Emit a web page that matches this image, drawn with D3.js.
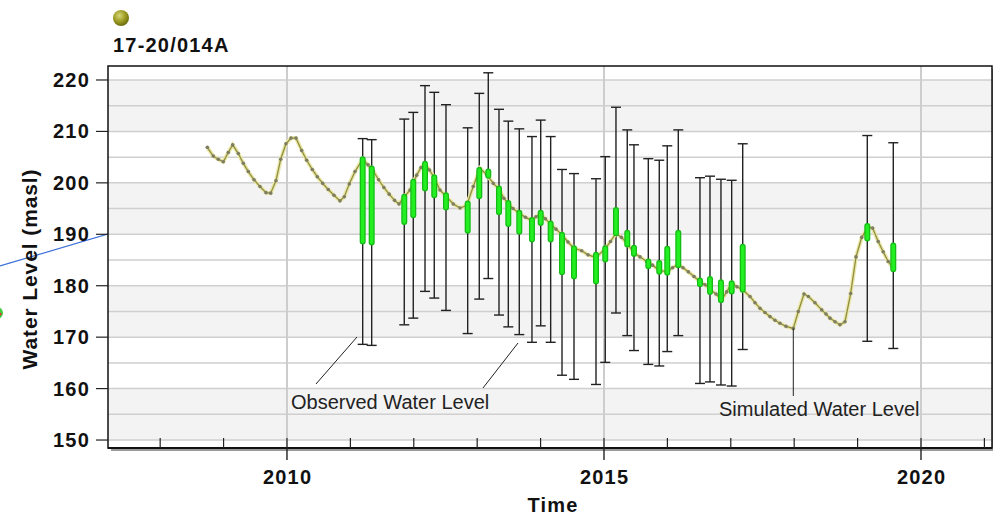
<!DOCTYPE html>
<html>
<head>
<meta charset="utf-8">
<script src="https://cdn.jsdelivr.net/npm/d3@7"></script>
<style>
body { margin: 0; background: #fff; }
svg { display: block; }
.num { font-family: Arial, "Liberation Sans", sans-serif; font-weight: bold; font-size: 20px; letter-spacing: 1.2px; fill: #111; }
.note { font-family: Arial, "Liberation Sans", sans-serif; font-size: 20px; fill: #222; }
</style>
</head>
<body>
<svg id="chart" width="993" height="519"></svg>
<script>
// simulated water level (decimal year / masl)
var simYear = [2008.743, 2008.837, 2008.916, 2008.995, 2009.074, 2009.144, 2009.232, 2009.311, 2009.390, 2009.480,
  2009.574, 2009.669, 2009.743, 2009.826, 2009.901, 2009.984, 2010.063, 2010.142, 2010.232, 2010.311,
  2010.399, 2010.478, 2010.563, 2010.651, 2010.741, 2010.836, 2010.904, 2010.983, 2011.073, 2011.194,
  2011.278, 2011.361, 2011.445, 2011.528, 2011.612, 2011.696, 2011.767, 2011.850, 2011.940, 2012.046,
  2012.114, 2012.177, 2012.248, 2012.323, 2012.413, 2012.508, 2012.623, 2012.729, 2012.834, 2012.938,
  2013.044, 2013.150, 2013.254, 2013.347, 2013.421, 2013.491, 2013.565, 2013.664, 2013.762, 2013.864,
  2013.927, 2014.002, 2014.077, 2014.159, 2014.243, 2014.338, 2014.432, 2014.527, 2014.648, 2014.748,
  2014.874, 2015.020, 2015.103, 2015.189, 2015.276, 2015.367, 2015.473, 2015.568, 2015.674, 2015.765,
  2015.872, 2015.998, 2016.080, 2016.172, 2016.246, 2016.330, 2016.420, 2016.514, 2016.593, 2016.672,
  2016.767, 2016.853, 2016.935, 2017.014, 2017.098, 2017.188, 2017.303, 2017.382, 2017.461, 2017.539,
  2017.618, 2017.697, 2017.776, 2017.871, 2017.986, 2018.065, 2018.155, 2018.224, 2018.328, 2018.434,
  2018.502, 2018.565, 2018.644, 2018.722, 2018.801, 2018.891, 2018.975, 2019.065, 2019.167, 2019.237,
  2019.325, 2019.404, 2019.483, 2019.546];
var simLevel = [206.9, 205.2, 204.6, 204.1, 205.9, 207.4, 205.7, 203.8, 202.2, 200.6,
  199.3, 198.1, 198.0, 200.4, 204.6, 207.6, 208.7, 208.7, 206.3, 204.4,
  202.6, 201.2, 199.9, 198.7, 197.6, 196.5, 197.3, 199.8, 202.2, 204.6,
  203.5, 202.3, 200.6, 199.1, 197.8, 196.6, 195.9, 197.3, 198.6, 201.5,
  203.0, 203.7, 202.5, 201.0, 198.6, 197.4, 195.9, 195.1, 195.6, 199.3,
  202.8, 201.6, 199.9, 198.8, 197.0, 196.0, 195.0, 194.1, 193.3, 192.7,
  193.4, 194.0, 193.0, 192.0, 191.0, 189.9, 188.5, 187.3, 186.8, 186.0,
  185.5, 187.2, 188.6, 190.2, 189.4, 188.2, 186.4, 185.6, 184.7, 184.0,
  183.0, 182.7, 183.5, 184.1, 183.5, 182.7, 181.8, 180.8, 180.2, 179.3,
  178.4, 177.2, 178.8, 180.5, 179.8, 179.2, 177.9, 176.7, 175.6, 174.8,
  174.0, 173.3, 172.7, 172.1, 171.7, 175.0, 178.4, 177.9, 176.7, 175.3,
  174.5, 173.7, 173.0, 172.4, 173.0, 178.5, 185.6, 189.4, 191.4, 191.2,
  188.6, 186.6, 184.7, 183.7];

// observed water level, with the simulated value at the same date (green bar) and error range
var obsYear = [2011.194, 2011.336, 2011.850, 2011.992, 2012.177, 2012.323, 2012.508, 2012.850, 2013.033, 2013.175,
  2013.344, 2013.491, 2013.664, 2013.864, 2014.002, 2014.159, 2014.338, 2014.527, 2014.874, 2015.020,
  2015.189, 2015.367, 2015.473, 2015.699, 2015.872, 2015.998, 2016.172, 2016.514, 2016.672, 2016.845,
  2017.014, 2017.188, 2019.153, 2019.563];
var obsLevel = [188.6, 188.4, 192.4, 193.7, 198.9, 197.6, 195.2, 190.7, 197.4, 201.4,
  194.3, 192.0, 190.5, 189.0, 192.2, 189.0, 182.6, 181.8, 180.8, 185.1,
  194.7, 190.3, 187.4, 184.7, 184.4, 187.2, 190.3, 181.0, 181.3, 180.7,
  180.5, 187.6, 189.2, 187.8];
var simAtObs = [204.6, 202.8, 197.3, 200.2, 203.7, 201.1, 197.6, 196.0, 202.5, 202.2,
  198.9, 196.1, 194.2, 192.8, 194.2, 192.1, 189.9, 187.3, 186.0, 187.3,
  190.2, 188.0, 186.2, 183.8, 182.7, 182.5, 184.0, 180.3, 178.8, 177.2,
  178.9, 179.2, 191.6, 183.2];
var obsError = 20;

var yTicks = [150, 160, 170, 180, 190, 200, 210, 220];
var yGrid = [150, 155, 160, 165, 170, 175, 180, 185, 190, 195, 200, 205, 210, 215, 220];
var bandStarts = [150, 170, 190, 210];
var xMajor = [2010, 2015, 2020];
var xMinor = [2008, 2009, 2010, 2011, 2012, 2013, 2014, 2015, 2016, 2017, 2018, 2019, 2020, 2021];
var wellName = '17-20/014A';

var L = 108, R = 992, T = 66, B = 448;
var svg = d3.select('#chart');

var x = d3.scaleLinear().domain([2007.177, 2021.12]).range([L, R]);
var y = d3.scaleLinear().domain([148.45, 222.72]).range([B, T]);

// stray pieces from the map behind the chart
svg.append('line').attr('x1', 0).attr('y1', 266).attr('x2', 253).attr('y2', 191)
  .style('stroke', '#3b6fd6').style('stroke-width', 1.2);
svg.append('circle').attr('cx', -3).attr('cy', 313).attr('r', 6).style('fill', '#3ecf3e');
svg.append('circle').attr('cx', 0).attr('cy', 314).attr('r', 1.6).style('fill', '#d33');

// shadow + plot background
svg.append('rect').attr('x', L + 3).attr('y', T + 3).attr('width', R - L).attr('height', B - T)
  .style('fill', '#9a9a9a');
svg.append('rect').attr('x', L).attr('y', T).attr('width', R - L).attr('height', B - T)
  .style('fill', '#fff');

svg.selectAll('rect.band').data(bandStarts).enter().append('rect')
  .attr('class', 'band')
  .attr('x', L).attr('width', R - L)
  .attr('y', function(d) { return y(d + 10); })
  .attr('height', function(d) { return y(d) - y(d + 10); })
  .style('fill', '#f3f3f3');

svg.selectAll('line.hgrid').data(yGrid).enter().append('line')
  .attr('class', 'hgrid')
  .attr('x1', L).attr('x2', R)
  .attr('y1', function(d) { return y(d); }).attr('y2', function(d) { return y(d); })
  .style('stroke', '#cfcfcf').style('stroke-width', 1.5);

svg.selectAll('line.vgrid').data(xMajor).enter().append('line')
  .attr('class', 'vgrid')
  .attr('x1', function(d) { return x(d); }).attr('x2', function(d) { return x(d); })
  .attr('y1', T).attr('y2', B)
  .style('stroke', '#cdcdcd').style('stroke-width', 2);

// error bars
var eb = svg.append('g').style('stroke', '#222').style('stroke-width', 1.4);
obsYear.forEach(function(t, i) {
  var cx = x(t), top = y(obsLevel[i] + obsError), bot = y(obsLevel[i] - obsError);
  eb.append('line').attr('x1', cx).attr('x2', cx).attr('y1', top).attr('y2', bot);
  eb.append('line').attr('x1', cx - 5).attr('x2', cx + 5).attr('y1', top).attr('y2', top);
  eb.append('line').attr('x1', cx - 5).attr('x2', cx + 5).attr('y1', bot).attr('y2', bot);
});

// simulated line
var simPts = simYear.map(function(t, i) { return [t, simLevel[i]]; });
var line = d3.line().x(function(d) { return x(d[0]); }).y(function(d) { return y(d[1]); });
svg.append('path').attr('d', line(simPts))
  .style('fill', 'none').style('stroke', '#ebe7a8').style('stroke-width', 4);
svg.append('path').attr('d', line(simPts))
  .style('fill', 'none').style('stroke', '#8f8f42').style('stroke-width', 1.3);
svg.selectAll('circle.sim').data(simPts).enter().append('circle')
  .attr('class', 'sim')
  .attr('cx', function(d) { return x(d[0]); })
  .attr('cy', function(d) { return y(d[1]); })
  .attr('r', 1.8)
  .style('fill', '#7d7d66');

// residual bars (observed -> simulated)
var gb = svg.append('g');
obsYear.forEach(function(t, i) {
  gb.append('line')
    .attr('x1', x(t)).attr('x2', x(t))
    .attr('y1', y(obsLevel[i])).attr('y2', y(simAtObs[i]))
    .style('stroke', '#14bb14').style('stroke-width', 6).style('stroke-linecap', 'round');
  gb.append('line')
    .attr('x1', x(t)).attr('x2', x(t))
    .attr('y1', y(obsLevel[i])).attr('y2', y(simAtObs[i]))
    .style('stroke', '#22ee22').style('stroke-width', 3.5).style('stroke-linecap', 'round');
});

// frame
svg.append('rect').attr('x', L).attr('y', T).attr('width', R - L).attr('height', B - T)
  .style('fill', 'none').style('stroke', '#111').style('stroke-width', 1.5);
svg.append('line').attr('x1', L).attr('x2', R).attr('y1', B).attr('y2', B)
  .style('stroke', '#111').style('stroke-width', 2);

// ticks
svg.selectAll('line.xminor').data(xMinor).enter().append('line')
  .attr('x1', function(d) { return x(d); }).attr('x2', function(d) { return x(d); })
  .attr('y1', B - 10).attr('y2', B)
  .style('stroke', '#222').style('stroke-width', 1.2);
svg.selectAll('line.xmajor').data(xMajor).enter().append('line')
  .attr('x1', function(d) { return x(d); }).attr('x2', function(d) { return x(d); })
  .attr('y1', B).attr('y2', B + 12)
  .style('stroke', '#222').style('stroke-width', 1.4);
svg.selectAll('text.xlab').data(xMajor).enter().append('text')
  .attr('class', 'num')
  .attr('x', function(d) { return x(d) + 0.6; }).attr('y', 484)
  .attr('text-anchor', 'middle')
  .text(function(d) { return d; });

svg.selectAll('line.ytick').data(yTicks).enter().append('line')
  .attr('x1', L - 12).attr('x2', L)
  .attr('y1', function(d) { return y(d); }).attr('y2', function(d) { return y(d); })
  .style('stroke', '#222').style('stroke-width', 1.2);
svg.selectAll('text.ylab').data(yTicks).enter().append('text')
  .attr('class', 'num')
  .attr('x', 90).attr('y', function(d) { return y(d) + 7; })
  .attr('text-anchor', 'end')
  .text(function(d) { return d; });

svg.append('text').attr('class', 'num')
  .attr('x', 553).attr('y', 512).attr('text-anchor', 'middle').text('Time');
svg.append('text').attr('class', 'num')
  .attr('transform', 'translate(37,269) rotate(-90)')
  .attr('text-anchor', 'middle').style('font-size', '21px').style('letter-spacing', '0.9px')
  .text('Water Level (masl)');

// title and marker
var grad = svg.append('defs').append('radialGradient').attr('id', 'ball')
  .attr('cx', '40%').attr('cy', '35%').attr('r', '65%');
grad.append('stop').attr('offset', '0%').attr('stop-color', '#d6d678');
grad.append('stop').attr('offset', '60%').attr('stop-color', '#9a9a22');
grad.append('stop').attr('offset', '100%').attr('stop-color', '#6e6e10');
svg.append('circle').attr('cx', 121).attr('cy', 18).attr('r', 8).style('fill', 'url(#ball)');
svg.append('text').attr('class', 'num').attr('x', 113).attr('y', 52).text(wellName);

// annotations
var ann = svg.append('g').style('stroke', '#222').style('stroke-width', 1);
ann.append('line').attr('x1', 316).attr('y1', 384).attr('x2', 357).attr('y2', 337);
ann.append('line').attr('x1', 483).attr('y1', 388).attr('x2', 518).attr('y2', 343);
ann.append('line').attr('x1', x(2017.986)).attr('y1', y(171.7)).attr('x2', x(2017.986)).attr('y2', 396);
svg.append('text').attr('class', 'note').attr('x', 291).attr('y', 409).text('Observed Water Level');
svg.append('text').attr('class', 'note').attr('x', 719).attr('y', 416).text('Simulated Water Level');
</script>
</body>
</html>
